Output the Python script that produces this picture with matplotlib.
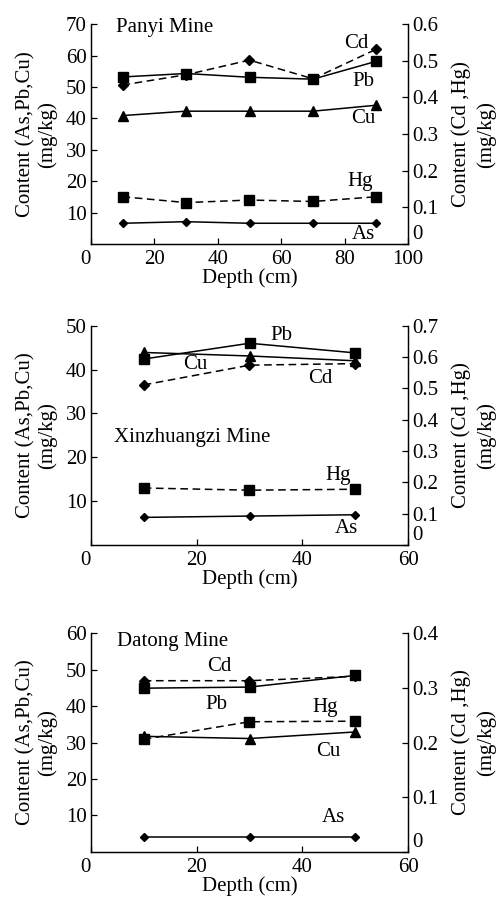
import matplotlib.pyplot as plt

plt.rcParams['font.family'] = ['Liberation Serif', 'DejaVu Serif']
plt.rcParams['font.size'] = 15

# Panyi Mine
depth_p = [10, 30, 50, 70, 90]
pb_p = [53.2, 54.3, 53.1, 52.5, 58.2]
cu_p = [40.9, 42.3, 42.3, 42.3, 44.2]
as_p = [6.6, 7.1, 6.6, 6.6, 6.6]
cd_p = [0.434, 0.462, 0.502, 0.451, 0.532]
hg_p = [0.129, 0.113, 0.120, 0.116, 0.129]

# Xinzhuangzi Mine
depth_x = [10, 30, 50]
pb_x = [42.4, 46.0, 43.8]
cu_x = [43.9, 43.1, 42.0]
as_x = [6.3, 6.6, 6.9]
cd_x = [0.511, 0.574, 0.579]
hg_x = [0.182, 0.175, 0.178]

# Datong Mine
depth_d = [10, 30, 50]
pb_d = [44.9, 45.2, 48.4]
cu_d = [31.7, 31.1, 32.9]
as_d = [4.1, 4.1, 4.1]
cd_d = [0.313, 0.313, 0.321]
hg_d = [0.206, 0.238, 0.239]

fig = plt.figure(figsize=(4.99, 8.97), dpi=100)


def panel(rect, depth, pb, cu, ars, cd, hg, xmax, xticks, ymax, yticks, y2max, y2ticks, labels):
    ax = fig.add_axes(rect)
    ax2 = ax.twinx()
    ax.plot(depth, pb, 'k-', marker='s', ms=6.5, lw=1.1)
    ax.plot(depth, cu, 'k-', marker='^', ms=6.5, lw=1.1)
    ax.plot(depth, ars, 'k-', marker='D', ms=4.5, lw=1.1)
    ax2.plot(depth, cd, 'k--', marker='D', ms=5, lw=1.1, dashes=(5, 3))
    ax2.plot(depth, hg, 'k--', marker='s', ms=6.5, lw=1.1, dashes=(5, 3))
    ax.set_xlim(0, xmax)
    ax.set_xticks(xticks)
    ax.set_ylim(0, ymax)
    ax.set_yticks(yticks)
    ax2.set_ylim(0, y2max)
    ax2.set_yticks(y2ticks)
    ax2.set_yticklabels(['0' if v == 0 else '%.1f' % v for v in y2ticks])
    for a in (ax, ax2):
        a.spines['top'].set_visible(False)
        a.tick_params(direction='in', length=4, width=0.9, labelsize=15, pad=3)
        for s in a.spines.values():
            s.set_linewidth(0.9)
    ax.tick_params(axis='x', pad=4)
    ax.get_xticklabels()[0].set_horizontalalignment('right')
    ax2.get_yticklabels()[0].set_verticalalignment('bottom')
    ax.set_xlabel('Depth (cm)', labelpad=0)
    ax.set_ylabel('Content (As,Pb,Cu)\n(mg/kg)', labelpad=6, linespacing=1.15)
    ax2.set_ylabel('Content (Cd ,Hg)\n(mg/kg)', labelpad=9, linespacing=1.4)
    for txt, x, y, ha in labels:
        ax.text(x, y, txt, ha=ha, va='center', fontsize=15)
    return ax


panel([0.182, 0.728, 0.636, 0.245], depth_p, pb_p, cu_p, as_p, cd_p, hg_p,
      100, [0, 20, 40, 60, 80, 100], 70, [10, 20, 30, 40, 50, 60, 70],
      0.6, [0, 0.1, 0.2, 0.3, 0.4, 0.5, 0.6],
      [('Panyi Mine', 8, 69, 'left'), ('Cd', 83.7, 64, 'center'),
       ('Pb', 85.8, 51.7, 'center'), ('Cu', 85.8, 40, 'center'),
       ('Hg', 84.8, 19.9, 'center'), ('As', 85.8, 2.9, 'center')])

panel([0.182, 0.3924, 0.636, 0.2445], depth_x, pb_x, cu_x, as_x, cd_x, hg_x,
      60, [0, 20, 40, 60], 50, [10, 20, 30, 40, 50],
      0.7, [0, 0.1, 0.2, 0.3, 0.4, 0.5, 0.6, 0.7],
      [('Xinzhuangzi Mine', 4.3, 24.6, 'left'), ('Pb', 36.1, 47.7, 'center'),
       ('Cu', 19.7, 41.1, 'center'), ('Cd', 43.3, 38.0, 'center'),
       ('Hg', 46.8, 15.8, 'center'), ('As', 48.4, 3.8, 'center')])

panel([0.182, 0.0502, 0.636, 0.244], depth_d, pb_d, cu_d, as_d, cd_d, hg_d,
      60, [0, 20, 40, 60], 60, [10, 20, 30, 40, 50, 60],
      0.4, [0, 0.1, 0.2, 0.3, 0.4],
      [('Datong Mine', 4.9, 57.7, 'left'), ('Cd', 24.3, 50.9, 'center'),
       ('Pb', 23.7, 40.3, 'center'), ('Hg', 44.3, 39.5, 'center'),
       ('Cu', 44.9, 27.5, 'center'), ('As', 45.8, 9.5, 'center')])

fig.savefig('out.png', dpi=100)
